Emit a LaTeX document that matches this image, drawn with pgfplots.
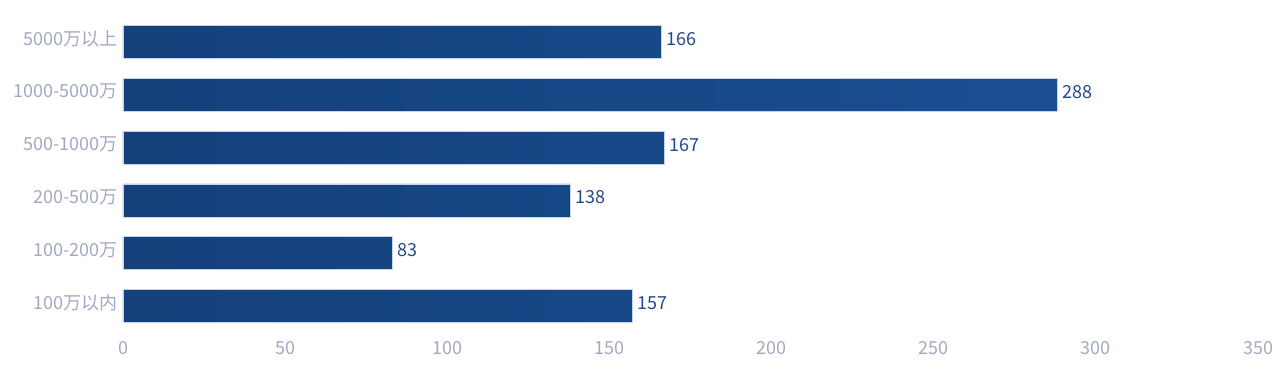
\documentclass[border=0pt]{standalone}
\usepackage{pgfplots}
\pgfplotsset{compat=1.18}
\usepackage{fontspec}
\setmainfont{Noto Sans CJK SC}
\definecolor{lbl}{RGB}{163,168,194}
\definecolor{val}{RGB}{36,73,138}
\definecolor{barL}{RGB}{20,64,123}
\definecolor{barR}{RGB}{25,79,146}
\definecolor{barE}{RGB}{200,212,230}
\begin{document}
\begin{tikzpicture}
\begin{axis}[
  scale only axis,
  width=1135bp, height=316.8bp,
  xmin=0, xmax=350, ymin=-0.5, ymax=5.5,
  xtick={0,50,...,350},
  ytick={0,1,2,3,4,5},
  yticklabels={100万以内,100-200万,200-500万,500-1000万,1000-5000万,5000万以上},
  axis line style={draw=none},
  major tick length=0pt,
  tick label style={color=lbl, font=\fontsize{18bp}{21bp}\selectfont},
  /pgf/number format/assume math mode=true,
  xticklabel style={yshift=-6bp},
  yticklabel style={xshift=-2bp, yshift=3bp},
  xbar, bar width=33bp,
  nodes near coords,
  nodes near coords style={color=val, font=\fontsize{18bp}{21bp}\selectfont, anchor=west, xshift=1.5bp, yshift=3bp},
  clip=false,
]
\addplot[xbar, left color=barL, right color=barR, draw=barE, line width=0.6bp]
  coordinates {(157,0) (83,1) (138,2) (167,3) (288,4) (166,5)};
\end{axis}
\pgfresetboundingbox
\useasboundingbox ([shift={(-123bp,-49.6bp)}]current axis.south west) rectangle ([shift={(22bp,15.6bp)}]current axis.north east);
\end{tikzpicture}
\end{document}
